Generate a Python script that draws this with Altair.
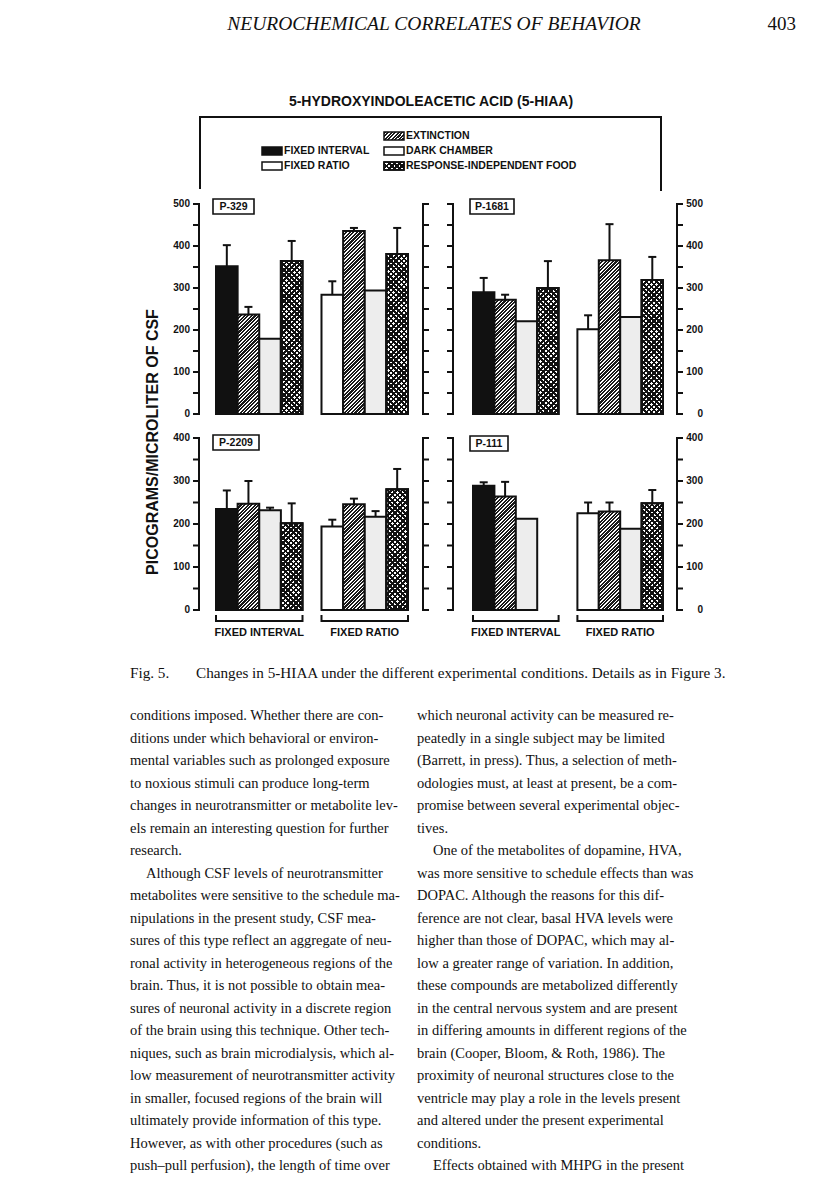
import altair as alt
import pandas as pd

# ----------------------------- data -----------------------------
groups = ["FIXED INTERVAL", "FIXED RATIO"]
conds = ["BASE", "EXT", "DC", "RIF"]  # BASE = the schedule itself (FI black / FR white)

p329_fi = [352, 237, 179, 364]
p329_fi_err = [402, 255, None, 412]
p329_fr = [284, 436, 294, 381]
p329_fr_err = [316, 443, None, 443]

p1681_fi = [290, 272, 221, 300]
p1681_fi_err = [324, 284, None, 364]
p1681_fr = [202, 366, 231, 319]
p1681_fr_err = [235, 452, None, 374]

p2209_fi = [235, 247, 232, 202]
p2209_fi_err = [278, 300, 238, 248]
p2209_fr = [194, 246, 217, 281]
p2209_fr_err = [210, 259, 230, 328]

p111_fi = [289, 264, 212, None]
p111_fi_err = [297, 298, None, None]
p111_fr = [225, 229, 189, 248]
p111_fr_err = [250, 250, None, 279]

top_ticks = list(range(0, 501, 50))
top_labels = list(range(0, 501, 100))
bot_ticks = list(range(0, 401, 50))
bot_labels = list(range(0, 401, 100))

fig_title = "5-HYDROXYINDOLEACETIC ACID (5-HIAA)"
y_title = "PICOGRAMS/MICROLITER OF CSF"
legend_col1 = ["FIXED INTERVAL", "FIXED RATIO"]
legend_col2 = ["EXTINCTION", "DARK CHAMBER", "RESPONSE-INDEPENDENT FOOD"]

running_head = "NEUROCHEMICAL CORRELATES OF BEHAVIOR"
page_no = "403"
caption_a = "Fig. 5."
caption_b = "Changes in 5-HIAA under the different experimental conditions. Details as in Figure 3."

left_lines = [
    "conditions imposed. Whether there are con-",
    "ditions under which behavioral or environ-",
    "mental variables such as prolonged exposure",
    "to noxious stimuli can produce long-term",
    "changes in neurotransmitter or metabolite lev-",
    "els remain an interesting question for further",
    "research.",
    "Although CSF levels of neurotransmitter",
    "metabolites were sensitive to the schedule ma-",
    "nipulations in the present study, CSF mea-",
    "sures of this type reflect an aggregate of neu-",
    "ronal activity in heterogeneous regions of the",
    "brain. Thus, it is not possible to obtain mea-",
    "sures of neuronal activity in a discrete region",
    "of the brain using this technique. Other tech-",
    "niques, such as brain microdialysis, which al-",
    "low measurement of neurotransmitter activity",
    "in smaller, focused regions of the brain will",
    "ultimately provide information of this type.",
    "However, as with other procedures (such as",
    "push\u2013pull perfusion), the length of time over",
]
left_indent = [7]
right_lines = [
    "which neuronal activity can be measured re-",
    "peatedly in a single subject may be limited",
    "(Barrett, in press). Thus, a selection of meth-",
    "odologies must, at least at present, be a com-",
    "promise between several experimental objec-",
    "tives.",
    "One of the metabolites of dopamine, HVA,",
    "was more sensitive to schedule effects than was",
    "DOPAC. Although the reasons for this dif-",
    "ference are not clear, basal HVA levels were",
    "higher than those of DOPAC, which may al-",
    "low a greater range of variation. In addition,",
    "these compounds are metabolized differently",
    "in the central nervous system and are present",
    "in differing amounts in different regions of the",
    "brain (Cooper, Bloom, & Roth, 1986). The",
    "proximity of neuronal structures close to the",
    "ventricle may play a role in the levels present",
    "and altered under the present experimental",
    "conditions.",
    "Effects obtained with MHPG in the present",
]
right_indent = [6, 20]


def make_df(fi, fi_err, fr, fr_err):
    rows = []
    for g, vals, errs in [(groups[0], fi, fi_err), (groups[1], fr, fr_err)]:
        for c, v, e in zip(conds, vals, errs):
            rows.append({"group": g, "cond": c, "value": v, "hi": e})
    return pd.DataFrame(rows)


# ----------------------------- layout / style -----------------------------
OX, OY = 8, 8
SANS = "Liberation Sans"
SERIF = "Liberation Serif"
INK = "#111111"
PAD_IN = 0.18
LEFT_X = (216, 408)
RIGHT_X = (473, 663)
TOP_Y = (414, 204)
BOT_Y = (610, 438)
L = 250.0


def stops(n, frac, dark, light):
    out = []
    for i in range(n):
        a, b, c = i / n, (i + frac) / n, (i + 1) / n
        out += [(a, dark), (b, dark), (b, light), (c, light)]
    return out


def stops_js(st):
    return "[" + ",".join("{offset:%.5f,color:'%s'}" % (o, c) for o, c in st) + "]"


def stops_json(st):
    return [{"offset": round(o, 5), "color": c} for o, c in st]


EXT_ST = stops(70, 0.6, "#1a1a1a", "#ffffff")
RIF_ST = stops(48, 0.5, "#111111", "#ffffff")
RIF_BK = stops(48, 0.5, "#111111", "rgba(0,0,0,0)")

FILL = (
    "datum.cond == 'BASE' ? (datum.group == 'FIXED INTERVAL' ? '#111111' : '#ffffff') : "
    "datum.cond == 'DC' ? '#ededed' : "
    "{gradient: 'linear', x1: 0, y1: 0, x2: datum.gx, y2: datum.gy, stops: (datum.cond == 'EXT' ? "
    + stops_js(EXT_ST) + " : " + stops_js(RIF_ST) + ")}"
)
BACK = ("{gradient: 'linear', x1: 0, y1: 1, x2: datum.gx, y2: 1 - datum.gy, stops: "
        + stops_js(RIF_BK) + "}")

one = pd.DataFrame({"k": [0]})


def txt(text, x, y, size=10.5, weight="bold", font=SANS, align="left", style="normal", angle=0):
    return alt.Chart(one).mark_text(
        text=text, align=align, baseline="middle", fontSize=size, fontWeight=weight,
        font=font, fontStyle=style, color=INK, angle=angle,
    ).encode(x=alt.value(x - OX), y=alt.value(y - OY))


def hline(x1, x2, y, w=2):
    return alt.Chart(one).mark_rule(color=INK, strokeWidth=w, strokeCap="square").encode(
        x=alt.value(x1 - OX), x2=alt.value(x2 - OX), y=alt.value(y - OY))


def vline(x, y1, y2, w=2):
    return alt.Chart(one).mark_rule(color=INK, strokeWidth=w, strokeCap="square").encode(
        x=alt.value(x - OX), y=alt.value(y1 - OY), y2=alt.value(y2 - OY))


def swatch(x1, x2, y1, y2, fill):
    return alt.Chart(one).mark_rect(fill=fill, stroke=INK, strokeWidth=1.5).encode(
        x=alt.value(x1 - OX), x2=alt.value(x2 - OX), y=alt.value(y1 - OY), y2=alt.value(y2 - OY))


def panel(df, ymax, ypx, xpx, side, label, box, ticks, labels, bottom):
    y0, y1 = ypx[0] - OY, ypx[1] - OY
    ys = alt.Scale(domain=[0, ymax], range=[y0, y1], nice=False, zero=True)
    xs = alt.Scale(domain=groups, range=[xpx[0] - OX, xpx[1] - OX], paddingInner=PAD_IN, paddingOuter=0)
    xo = alt.Scale(domain=conds, paddingInner=0, paddingOuter=0)
    k = (y0 - y1) / ymax
    bw = (xpx[1] - xpx[0]) / (2 - PAD_IN) * (1 - PAD_IN)
    w = bw / 4
    X = alt.X("group:N", scale=xs, axis=None)
    XO = alt.XOffset("cond:N", scale=xo)

    base = (
        alt.Chart(df)
        .transform_filter("isValid(datum.value)")
        .transform_calculate(h=f"max(datum.value * {k:.5f}, 1)")
        .transform_calculate(
            gx=f"{L} * {w:.4f} / ({w:.4f} * {w:.4f} + datum.h * datum.h)",
            gy=f"{L} * datum.h / ({w:.4f} * {w:.4f} + datum.h * datum.h)",
        )
    )
    yenc = alt.Y("value:Q", scale=ys, axis=None, stack=None)
    bars = base.mark_bar(fill=alt.ExprRef(expr=FILL), stroke=INK, strokeWidth=2, opacity=1).encode(
        x=X, xOffset=XO, y=yenc)
    over = base.transform_filter("datum.cond == 'RIF'").mark_bar(
        fill=alt.ExprRef(expr=BACK), stroke=INK, strokeWidth=2, opacity=1).encode(x=X, xOffset=XO, y=yenc)
    errbase = alt.Chart(df).transform_filter("isValid(datum.hi)")
    err = errbase.mark_rule(color=INK, strokeWidth=2).encode(
        x=X, xOffset=XO, y=alt.Y("value:Q", scale=ys, axis=None), y2="hi:Q")
    caps = errbase.mark_tick(color=INK, orient="horizontal", size=8, thickness=2, opacity=1).encode(
        x=X, xOffset=XO, y=alt.Y("hi:Q", scale=ys, axis=None))

    tdf = pd.DataFrame({"v": ticks})
    ldf = pd.DataFrame({"v": labels})
    fdf = pd.DataFrame({"lo": [0], "hi": [ymax]})

    def vaxis(ax, d):
        ln = alt.Chart(fdf).mark_rule(color=INK, strokeWidth=2, strokeCap="square").encode(
            x=alt.value(ax - OX), y=alt.Y("lo:Q", scale=ys, axis=None), y2="hi:Q")
        tk = alt.Chart(tdf).mark_rule(color=INK, strokeWidth=2).encode(
            x=alt.value(ax - OX), x2=alt.value(ax - OX + d * 6), y=alt.Y("v:Q", scale=ys, axis=None))
        return [ln, tk]

    layers = [bars, over, err, caps]
    if side == "left":
        layers += vaxis(199, -1) + vaxis(423, 1)
        lab_x = 190
    else:
        layers += vaxis(677, 1) + vaxis(453, -1)
        lab_x = 703
    layers.append(alt.Chart(ldf).mark_text(
        align="right", baseline="middle", fontSize=10, fontWeight="bold", font=SANS, color=INK
    ).encode(x=alt.value(lab_x - OX), y=alt.Y("v:Q", scale=ys, axis=None), text="v:Q"))

    # subject label box
    bx1, bx2, by1, by2 = box
    layers.append(alt.Chart(one).mark_rect(fill="white", stroke=INK, strokeWidth=1.6).encode(
        x=alt.value(bx1 - OX), x2=alt.value(bx2 - OX), y=alt.value(by1 - OY), y2=alt.value(by2 - OY)))
    layers.append(txt(label, (bx1 + bx2) / 2, (by1 + by2) / 2 + 0.5, size=10.5, align="center"))

    if bottom:
        gdf = pd.DataFrame({"group": groups})
        layers.append(alt.Chart(gdf).mark_bar(
            fill="transparent", stroke=INK, strokeWidth=2, strokeDash=[0, bw, bw + 12, 0], opacity=1
        ).encode(x=X, y=alt.value(615 - OY), y2=alt.value(621 - OY)))
        layers.append(alt.Chart(gdf).mark_text(
            baseline="middle", align="center", fontSize=11, fontWeight="bold", font=SANS, color=INK
        ).encode(x=X, y=alt.value(633 - OY), text="group:N"))
    return alt.layer(*layers)


p_tl = panel(make_df(p329_fi, p329_fi_err, p329_fr, p329_fr_err), 500, TOP_Y, LEFT_X, "left",
             "P-329", (213, 254, 199, 214), top_ticks, top_labels, False)
p_tr = panel(make_df(p1681_fi, p1681_fi_err, p1681_fr, p1681_fr_err), 500, TOP_Y, RIGHT_X, "right",
             "P-1681", (470, 514, 199, 214), top_ticks, top_labels, False)
p_bl = panel(make_df(p2209_fi, p2209_fi_err, p2209_fr, p2209_fr_err), 400, BOT_Y, LEFT_X, "left",
             "P-2209", (213, 259, 435, 450), bot_ticks, bot_labels, True)
p_br = panel(make_df(p111_fi, p111_fi_err, p111_fr, p111_fr_err), 400, BOT_Y, RIGHT_X, "right",
             "P-111", (470, 508, 436, 451), bot_ticks, bot_labels, True)

# ----------------------------- legend -----------------------------
sw_w, sw_h = 20, 8
gx_s = L * sw_w / (sw_w ** 2 + sw_h ** 2)
gy_s = L * sw_h / (sw_w ** 2 + sw_h ** 2)
ext_grad = {"gradient": "linear", "x1": 0, "y1": 0, "x2": gx_s, "y2": gy_s, "stops": stops_json(EXT_ST)}
rif_grad = {"gradient": "linear", "x1": 0, "y1": 0, "x2": gx_s, "y2": gy_s, "stops": stops_json(RIF_ST)}
rif_back = {"gradient": "linear", "x1": 0, "y1": 1, "x2": gx_s, "y2": 1 - gy_s, "stops": stops_json(RIF_BK)}

C1, C2 = 262, 384
R = [136, 151, 166]
legend = [
    hline(200, 661, 117), vline(200, 117, 188), vline(661, 117, 190),
    swatch(C2, C2 + sw_w, R[0] - 4, R[0] + 4, ext_grad),
    swatch(C1, C1 + sw_w, R[1] - 4, R[1] + 4, INK),
    swatch(C2, C2 + sw_w, R[1] - 4, R[1] + 4, "#ffffff"),
    swatch(C1, C1 + sw_w, R[2] - 4, R[2] + 4, "#ffffff"),
    swatch(C2, C2 + sw_w, R[2] - 4, R[2] + 4, rif_grad),
    swatch(C2, C2 + sw_w, R[2] - 4, R[2] + 4, rif_back),
    txt(legend_col2[0], C2 + 22, R[0]),
    txt(legend_col1[0], C1 + 22, R[1]),
    txt(legend_col2[1], C2 + 22, R[1]),
    txt(legend_col1[1], C1 + 22, R[2]),
    txt(legend_col2[2], C2 + 22, R[2]),
]

# ----------------------------- page text -----------------------------
rows = []
for col, lines, ind in [(0, left_lines, left_indent), (1, right_lines, right_indent)]:
    for i, t in enumerate(lines):
        rows.append({"col": col, "line": i, "text": t, "indent": 1 if i in ind else 0})
body_df = pd.DataFrame(rows)
bx = alt.X("col:Q", scale=alt.Scale(domain=[0, 1], range=[130 - OX, 417 - OX]), axis=None)
by = alt.Y("line:Q", scale=alt.Scale(domain=[0, 20], range=[716 - OY, 1166 - OY]), axis=None)
body = alt.layer(
    alt.Chart(body_df).transform_filter("datum.indent == 0").mark_text(
        align="left", baseline="middle", font=SERIF, fontSize=14.5, color=INK).encode(x=bx, y=by, text="text:N"),
    alt.Chart(body_df).transform_filter("datum.indent == 1").mark_text(
        align="left", baseline="middle", font=SERIF, fontSize=14.5, color=INK, dx=16).encode(x=bx, y=by, text="text:N"),
)

page = [
    txt(running_head, 434, 24, size=19.5, weight="normal", font=SERIF, align="center", style="italic"),
    txt(page_no, 796, 24, size=19, weight="normal", font=SERIF, align="right"),
    txt(fig_title, 431, 102, size=14, align="center"),
    txt(y_title, 153, 442, size=16, align="center", angle=270),
    txt(caption_a, 130, 673, size=15.2, weight="normal", font=SERIF),
    txt(caption_b, 196, 673, size=15.2, weight="normal", font=SERIF),
]

chart = (
    alt.layer(*page, *legend, p_tl, p_tr, p_bl, p_br, body)
    .resolve_scale(x="independent", y="independent", xOffset="independent")
    .properties(width=800, height=1184, padding=0, background="white")
    .configure_view(strokeWidth=0)
)

chart.save("out.html", embed_options={"renderer": "svg", "actions": False})
